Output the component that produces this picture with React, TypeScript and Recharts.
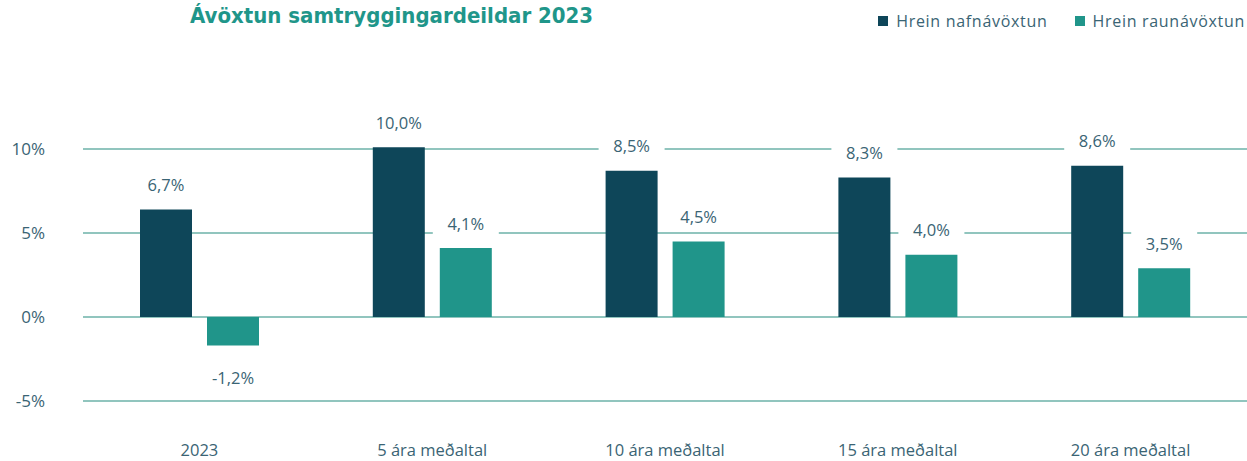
import { BarChart, Bar, XAxis, YAxis, CartesianGrid, LabelList } from "recharts";

const categories = ["2023", "5 ára meðaltal", "10 ára meðaltal", "15 ára meðaltal", "20 ára meðaltal"];
const nafnavoxtun = [6.4, 10.1, 8.7, 8.3, 9.0];
const raunavoxtun = [-1.7, 4.1, 4.5, 3.7, 2.9];
const nafnLabels = ["6,7%", "10,0%", "8,5%", "8,3%", "8,6%"];
const raunLabels = ["-1,2%", "4,1%", "4,5%", "4,0%", "3,5%"];
const yTicks = [-5, 0, 5, 10];

const DARK = "#0e4659";
const TEAL = "#20958a";
const TEXT = "#3a6474";
const GRID = "#6db2a8";
const FONT = "'Open Sans', sans-serif";

const data = categories.map((name, i) => ({
  name,
  nafn: nafnavoxtun[i],
  raun: raunavoxtun[i],
}));

function makeLabel(values: number[], labels: string[]) {
  return (props: any) => {
    const { x, y, width, height, index } = props;
    const top = Math.min(y, y + height);
    const bottom = Math.max(y, y + height);
    const cx = x + width / 2;
    const cy = values[index] < 0 ? bottom + 32 : top - 25;
    return (
      <g>
        <rect x={cx - 33} y={cy - 12} width={66} height={24} fill="#fff" />
        <text x={cx} y={cy} textAnchor="middle" dominantBaseline="central" fill={TEXT} fontSize={16.5} fontFamily={FONT}>
          {labels[index]}
        </text>
      </g>
    );
  };
}

const legendItems = [
  { name: "Hrein nafnávöxtun", color: DARK },
  { name: "Hrein raunávöxtun", color: TEAL },
];

export default function App() {
  return (
    <div style={{ position: "absolute", left: 0, top: 0, width: 1247, height: 461, background: "#fff" }}>
      <div
        style={{
          position: "absolute",
          left: 190,
          top: 3,
          fontFamily: "'DejaVu Sans Condensed', 'DejaVu Sans', sans-serif",
          fontWeight: "bold",
          fontSize: 22,
          color: "#1f968a",
          zIndex: 2,
        }}
      >
        Ávöxtun samtryggingardeildar 2023
      </div>
      <div
        style={{
          position: "absolute",
          right: 2,
          top: 10,
          display: "flex",
          gap: 27,
          fontFamily: FONT,
          fontSize: 16,
          color: TEXT,
          letterSpacing: 0.7,
          zIndex: 2,
        }}
      >
        {legendItems.map((it) => (
          <div key={it.name} style={{ display: "flex", alignItems: "center" }}>
            <span style={{ width: 10, height: 10, background: it.color, display: "inline-block", marginRight: 8 }} />
            {it.name}
          </div>
        ))}
      </div>
      <BarChart
        width={1247}
        height={461}
        data={data}
        margin={{ top: 65, right: 0, left: 0, bottom: 0 }}
        barSize={52}
        barGap={15}
      >
        <CartesianGrid vertical={false} stroke={GRID} strokeWidth={1.3} horizontalValues={yTicks} />
        <XAxis
          dataKey="name"
          axisLine={false}
          tickLine={false}
          height={60}
          tickSize={0}
          tickMargin={43}
          tick={{ fill: TEXT, fontSize: 16.5, fontFamily: FONT }}
        />
        <YAxis
          width={83}
          domain={[-5, 15]}
          ticks={yTicks}
          axisLine={false}
          tickLine={false}
          tickSize={0}
          tickMargin={38}
          tickFormatter={(v: number) => `${v}%`}
          tick={{ fill: TEXT, fontSize: 17, fontFamily: FONT }}
        />
        <Bar dataKey="nafn" name="Hrein nafnávöxtun" fill={DARK} isAnimationActive={false}>
          <LabelList dataKey="nafn" content={makeLabel(nafnavoxtun, nafnLabels)} />
        </Bar>
        <Bar dataKey="raun" name="Hrein raunávöxtun" fill={TEAL} isAnimationActive={false}>
          <LabelList dataKey="raun" content={makeLabel(raunavoxtun, raunLabels)} />
        </Bar>
      </BarChart>
    </div>
  );
}
